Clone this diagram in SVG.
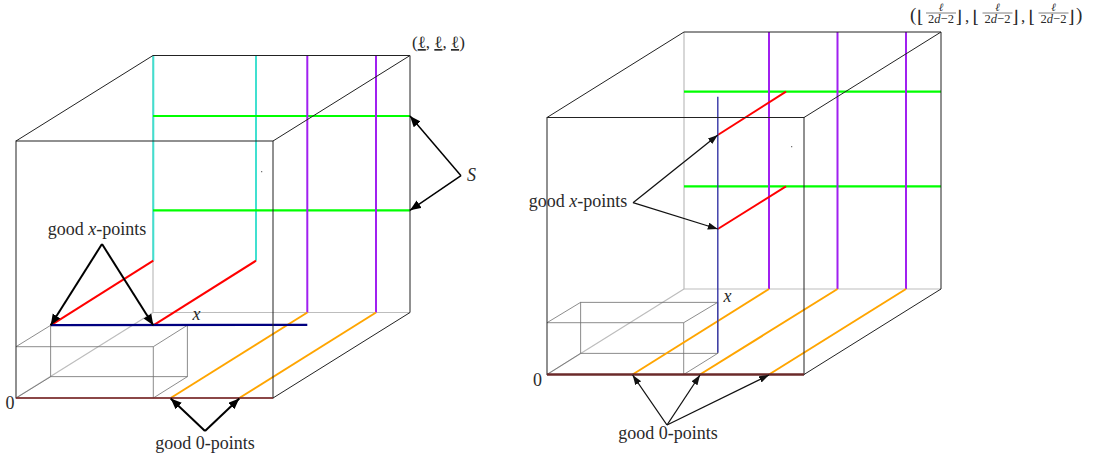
<svg xmlns="http://www.w3.org/2000/svg" width="1094" height="461" viewBox="0 0 1094 461">
<style>
.edge{stroke:#222;stroke-width:1;fill:none}
.hid{stroke:#bdbdbd;stroke-width:1.2;fill:none}
.box{stroke:#6e6e6e;stroke-width:0.8;fill:none}
.cy{stroke:#40e0d0;stroke-width:2}
.gr{stroke:#00ff00;stroke-width:2.2}
.pu{stroke:#a020f0;stroke-width:2}
.rd{stroke:#ff0000;stroke-width:2}
.or{stroke:#ffa500;stroke-width:2}
.arL{stroke:#000;stroke-width:2;fill:none}
.arS{stroke:#000;stroke-width:1.5;fill:none}
.arR{stroke:#111;stroke-width:1.3;fill:none}
text{font-family:"Liberation Serif","DejaVu Serif",serif;fill:#2a2a2a}
.lbl{font-size:18px}
.it{font-style:italic}
</style>
<defs>
<marker id="hL" markerUnits="userSpaceOnUse" markerWidth="12" markerHeight="10" refX="11" refY="4.5" orient="auto"><path d="M0,0 L11,4.5 L0,9 z" fill="#000"/></marker>
<marker id="hR" markerUnits="userSpaceOnUse" markerWidth="11" markerHeight="8" refX="10" refY="3.5" orient="auto"><path d="M0,0 L10,3.5 L0,7 z" fill="#111"/></marker>
</defs>

<g id="left-cube">
  <line class="hid" x1="153" y1="55.5" x2="153" y2="312.5"/>
  <line class="hid" x1="153" y1="312.5" x2="410" y2="312.5"/>
  <line class="hid" x1="16" y1="398" x2="153" y2="312.5"/>
  <g class="box">
    <rect x="50.7" y="325.3" width="136.6" height="51.4"/>
    <line x1="16" y1="346.7" x2="153.3" y2="346.7"/>
    <line x1="153.3" y1="346.7" x2="153.3" y2="398"/>
    <line x1="16" y1="346.7" x2="50.7" y2="325.3"/>
    <line x1="153.3" y1="346.7" x2="187.3" y2="325.3"/>
    <line x1="153.3" y1="398" x2="187.3" y2="376.7"/>
    <line x1="16" y1="398" x2="50.7" y2="376.7"/>
  </g>
  <line class="cy" x1="153.3" y1="55.5" x2="153.3" y2="260.7"/>
  <line class="cy" x1="256" y1="55.5" x2="256" y2="260.7"/>
  <line class="gr" x1="153" y1="116" x2="410" y2="116"/>
  <line class="gr" x1="153" y1="210.3" x2="410" y2="210.3"/>
  <line class="pu" x1="307.3" y1="55.5" x2="307.3" y2="312.5"/>
  <line class="pu" x1="376" y1="55.5" x2="376" y2="312.5"/>
  <line class="rd" x1="153.3" y1="260.7" x2="50.7" y2="325.3"/>
  <line class="rd" x1="256" y1="260.7" x2="153.3" y2="325.3"/>
  <line class="or" x1="307.3" y1="312.5" x2="170.7" y2="398"/>
  <line class="or" x1="376" y1="312.5" x2="239.3" y2="398"/>
  <line x1="50.7" y1="325.2" x2="307.3" y2="324.8" stroke="#000080" stroke-width="2.2"/>
  <rect class="edge" x="16" y="141" width="257" height="257"/>
  <line class="edge" x1="153" y1="55.5" x2="410" y2="55.5"/>
  <line class="edge" x1="410" y1="55.5" x2="410" y2="312.5"/>
  <line class="edge" x1="16" y1="141" x2="153" y2="55.5"/>
  <line class="edge" x1="273" y1="141" x2="410" y2="55.5"/>
  <line class="edge" x1="273" y1="398" x2="410" y2="312.5"/>
  <line x1="16" y1="398" x2="273" y2="398" stroke="#8a2f2f" stroke-width="1.6"/>
  <circle cx="261.7" cy="171.7" r="0.6" fill="#444"/>
</g>

<g id="right-cube">
  <line class="hid" x1="684" y1="32" x2="684" y2="289"/>
  <line class="hid" x1="684" y1="289" x2="941" y2="289"/>
  <line class="hid" x1="547" y1="374.5" x2="684" y2="289"/>
  <g class="box">
    <rect x="580.7" y="302.3" width="137.1" height="51"/>
    <line x1="547" y1="322.7" x2="683.7" y2="322.7"/>
    <line x1="683.7" y1="322.7" x2="683.7" y2="374.5"/>
    <line x1="547" y1="322.7" x2="580.7" y2="302.3"/>
    <line x1="683.7" y1="322.7" x2="717.8" y2="302.3"/>
    <line x1="683.7" y1="374.5" x2="717.8" y2="353.3"/>
    <line x1="547" y1="374.5" x2="580.7" y2="353.3"/>
  </g>
  <line class="gr" x1="684" y1="91.7" x2="941" y2="91.7"/>
  <line class="gr" x1="684" y1="186.3" x2="941" y2="186.3"/>
  <line class="pu" x1="769" y1="32" x2="769" y2="289"/>
  <line class="pu" x1="837.5" y1="32" x2="837.5" y2="289"/>
  <line class="pu" x1="906" y1="32" x2="906" y2="289"/>
  <line class="rd" x1="786" y1="91.7" x2="717.8" y2="135"/>
  <line class="rd" x1="786" y1="186.3" x2="717.8" y2="229"/>
  <line class="or" x1="769" y1="289" x2="632.6" y2="374.5"/>
  <line class="or" x1="837.5" y1="289" x2="700" y2="374.5"/>
  <line class="or" x1="906" y1="289" x2="769" y2="374.5"/>
  <line x1="717.8" y1="96.7" x2="717.8" y2="352.7" stroke="#3636a6" stroke-width="1.4"/>
  <rect class="edge" x="547" y="117.5" width="257" height="257"/>
  <line class="edge" x1="684" y1="32" x2="941" y2="32"/>
  <line class="edge" x1="941" y1="32" x2="941" y2="289"/>
  <line class="edge" x1="547" y1="117.5" x2="684" y2="32"/>
  <line class="edge" x1="804" y1="117.5" x2="941" y2="32"/>
  <line class="edge" x1="804" y1="374.5" x2="941" y2="289"/>
  <line x1="547" y1="374.5" x2="804" y2="374.5" stroke="#6b2a2a" stroke-width="2.4"/>
  <circle cx="791.7" cy="146.7" r="0.6" fill="#444"/>
</g>

<g id="connectors">
  <line class="arL" x1="102" y1="244" x2="50.7" y2="325.3" marker-end="url(#hL)"/>
  <line class="arL" x1="102" y1="244" x2="153.3" y2="325.3" marker-end="url(#hL)"/>
  <line class="arS" x1="461" y1="175.7" x2="410" y2="116" marker-end="url(#hL)"/>
  <line class="arS" x1="461" y1="175.7" x2="410" y2="210.3" marker-end="url(#hL)"/>
  <line class="arL" x1="205" y1="431" x2="170.7" y2="398.5" marker-end="url(#hL)"/>
  <line class="arL" x1="205" y1="431" x2="239.3" y2="398.5" marker-end="url(#hL)"/>
  <line class="arR" x1="633" y1="202.7" x2="717.8" y2="135" marker-end="url(#hR)"/>
  <line class="arR" x1="633" y1="202.7" x2="717.8" y2="229" marker-end="url(#hR)"/>
  <line class="arR" x1="667" y1="425" x2="632.6" y2="375" marker-end="url(#hR)"/>
  <line class="arR" x1="667" y1="425" x2="700" y2="375" marker-end="url(#hR)"/>
  <line class="arR" x1="667" y1="425" x2="769" y2="375" marker-end="url(#hR)"/>
</g>

<g id="labels">
  <text class="lbl" x="97" y="235" text-anchor="middle">good <tspan class="it">x</tspan>-points</text>
  <text class="lbl" x="205" y="449" text-anchor="middle">good 0-points</text>
  <text class="lbl" x="10" y="409" text-anchor="middle">0</text>
  <text class="lbl it" x="467" y="181">S</text>
  <text class="lbl it" x="192.5" y="320">x</text>
  <text x="412" y="48" font-size="17">(<tspan text-decoration="underline">ℓ</tspan>, <tspan text-decoration="underline">ℓ</tspan>, <tspan text-decoration="underline">ℓ</tspan>)</text>

  <text class="lbl" x="578" y="207" text-anchor="middle">good <tspan class="it">x</tspan>-points</text>
  <text class="lbl" x="668" y="439" text-anchor="middle">good 0-points</text>
  <text class="lbl" x="537.5" y="386" text-anchor="middle">0</text>
  <text class="lbl it" x="723.5" y="302">x</text>

  <g id="corner-label">
    <text x="910" y="21" font-size="19">(</text>
    <text x="917" y="23" font-size="17">⌊</text>
    <text x="941" y="10.5" font-size="11" text-anchor="middle" font-style="italic">ℓ</text>
    <line x1="926" y1="13" x2="956" y2="13" stroke="#2a2a2a" stroke-width="0.6"/>
    <text x="941" y="23" font-size="12.5" text-anchor="middle">2<tspan font-style="italic">d</tspan>−2</text>
    <text x="955.5" y="23" font-size="17">⌋</text>
    <text x="965" y="22" font-size="17">,</text>

    <text x="972.5" y="23" font-size="17">⌊</text>
    <text x="997.5" y="10.5" font-size="11" text-anchor="middle" font-style="italic">ℓ</text>
    <line x1="982.5" y1="13" x2="1012.5" y2="13" stroke="#2a2a2a" stroke-width="0.6"/>
    <text x="997.5" y="23" font-size="12.5" text-anchor="middle">2<tspan font-style="italic">d</tspan>−2</text>
    <text x="1012" y="23" font-size="17">⌋</text>
    <text x="1021" y="22" font-size="17">,</text>

    <text x="1028.5" y="23" font-size="17">⌊</text>
    <text x="1053.5" y="10.5" font-size="11" text-anchor="middle" font-style="italic">ℓ</text>
    <line x1="1038.5" y1="13" x2="1068.5" y2="13" stroke="#2a2a2a" stroke-width="0.6"/>
    <text x="1053.5" y="23" font-size="12.5" text-anchor="middle">2<tspan font-style="italic">d</tspan>−2</text>
    <text x="1068" y="23" font-size="17">⌋</text>
    <text x="1076" y="21" font-size="19">)</text>
  </g>
</g>
</svg>
